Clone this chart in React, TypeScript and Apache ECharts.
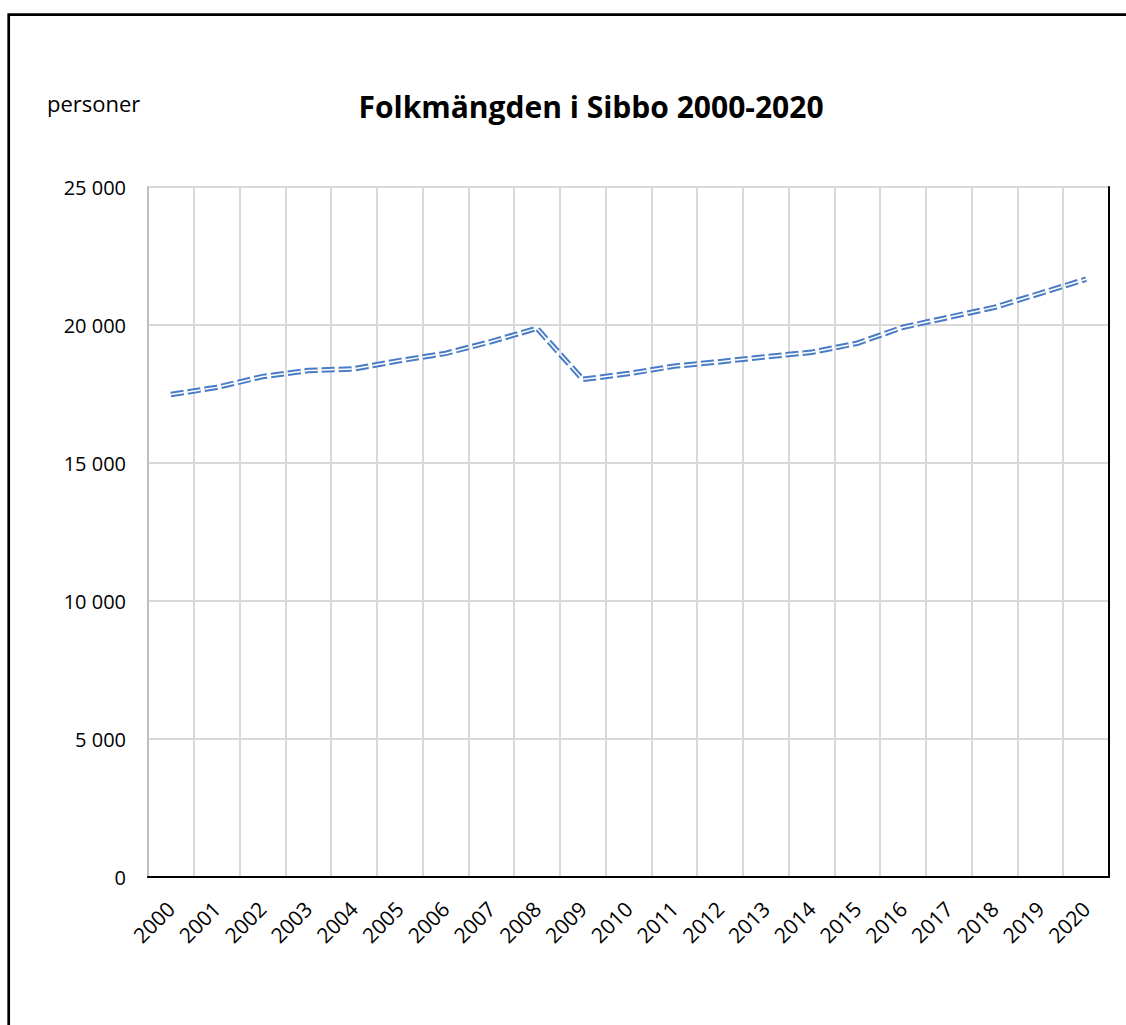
import React, { useEffect, useRef } from "react";
import * as echarts from "echarts";

const years: string[] = [
  "2000", "2001", "2002", "2003", "2004", "2005", "2006", "2007", "2008", "2009", "2010",
  "2011", "2012", "2013", "2014", "2015", "2016", "2017", "2018", "2019", "2020",
];
const population: number[] = [
  17480, 17740, 18130, 18350, 18410, 18710, 18970, 19400, 19880, 18030, 18240,
  18510, 18670, 18850, 19010, 19340, 19920, 20280, 20640, 21150, 21660,
];
const titleText = "Folkmängden i Sibbo 2000-2020";
const unitText = "personer";

const FONT = "'Open Sans', 'Noto Sans', sans-serif";

const fmt = (v: number) => {
  const s = String(Math.round(v));
  return s.replace(/\B(?=(\d{3})+(?!\d))/g, " ");
};

export default function App() {
  const ref = useRef<HTMLDivElement>(null);
  useEffect(() => {
    if (!ref.current) return;
    const chart = echarts.init(ref.current, undefined, { renderer: "svg" });
    chart.setOption({
      animation: false,
      backgroundColor: "#ffffff",
      textStyle: { fontFamily: FONT },
      grid: { left: 148, top: 187, right: 17, bottom: 148, containLabel: false },
      graphic: [
        {
          type: "rect",
          shape: { x: 8.7, y: 14.7, width: 1300, height: 1300 },
          style: { fill: "none", stroke: "#000", lineWidth: 2.7 },
          silent: true,
          z: 0,
        },
        {
          type: "text",
          x: 47,
          y: 103,
          style: {
            text: unitText,
            fontSize: 22,
            fontFamily: FONT,
            fill: "#000",
            align: "left",
            verticalAlign: "middle",
          },
        },
        {
          type: "text",
          x: 591,
          y: 106,
          style: {
            text: titleText,
            fontSize: 30,
            fontWeight: "bold",
            fontFamily: FONT,
            fill: "#000",
            align: "center",
            verticalAlign: "middle",
          },
        },
      ],
      xAxis: [
        {
          type: "category",
          data: years,
          boundaryGap: true,
          axisLine: { show: true, lineStyle: { color: "#a6a6a6", width: 2 } },
          axisTick: { show: false },
          splitLine: { show: true, lineStyle: { color: "#d9d9d9", width: 2 } },
          axisLabel: {
            rotate: 45,
            margin: 28,
            color: "#000",
            fontSize: 21,
            fontFamily: FONT,
            interval: 0,
          },
        },
        {
          type: "category",
          data: years,
          position: "top",
          boundaryGap: true,
          z: 5,
          axisLine: { show: true, lineStyle: { color: "#000", width: 2 } },
          axisTick: { show: false },
          axisLabel: { show: false },
          splitLine: { show: false },
        },
      ],
      yAxis: [
        {
          type: "value",
          min: 0,
          max: 25000,
          interval: 5000,
          axisLine: { show: true, lineStyle: { color: "#bfbfbf", width: 2 } },
          axisTick: { show: false },
          splitLine: { show: true, lineStyle: { color: "#d9d9d9", width: 2 } },
          axisLabel: {
            margin: 22,
            color: "#000",
            fontSize: 20,
            fontFamily: FONT,
            formatter: (v: number) => fmt(v),
          },
        },
        {
          type: "value",
          min: 0,
          max: 25000,
          interval: 5000,
          position: "right",
          z: 5,
          axisLine: { show: true, lineStyle: { color: "#000", width: 2 } },
          axisTick: { show: false },
          axisLabel: { show: false },
          splitLine: { show: false },
        },
      ],
      series: [
        {
          type: "line",
          name: "outer",
          data: population,
          xAxisIndex: 0,
          yAxisIndex: 0,
          symbol: "none",
          z: 10,
          lineStyle: { color: "#4a7cc6", width: 5.5, type: [13, 4], cap: "butt", join: "miter" },
        },
        {
          type: "line",
          name: "inner",
          data: population,
          xAxisIndex: 0,
          yAxisIndex: 0,
          symbol: "none",
          z: 11,
          lineStyle: { color: "#ffffff", width: 1.5, type: [13, 4], cap: "butt", join: "miter" },
        },
      ],
    });
    return () => chart.dispose();
  }, []);
  return (
    <div
      ref={ref}
      style={{ position: "fixed", left: 0, top: 0, width: 1126, height: 1025 }}
    />
  );
}
